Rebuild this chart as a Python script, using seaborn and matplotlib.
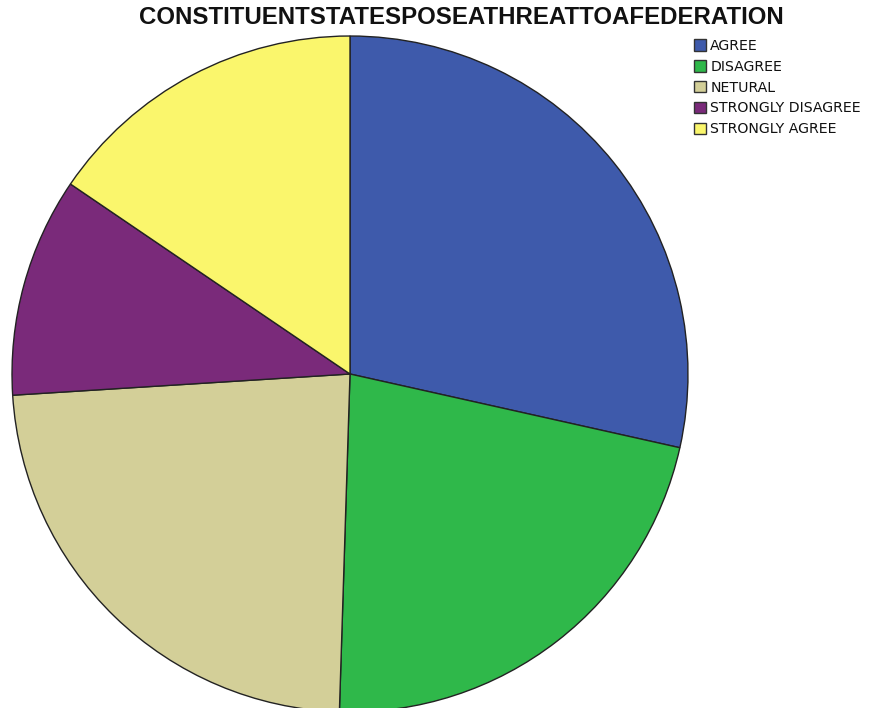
import matplotlib
matplotlib.use("Agg")
import matplotlib.pyplot as plt
import matplotlib.patches as mpatches
import seaborn as sns

categories = ["AGREE", "DISAGREE", "NETURAL", "STRONGLY DISAGREE", "STRONGLY AGREE"]
counts = [57, 44, 47, 21, 31]
colors = ["#3e5aab", "#2fb84a", "#d3cf98", "#7a2a7a", "#faf66c"]
title = "CONSTITUENTSTATESPOSEATHREATTOAFEDERATION"

sns.set_theme(style="white")
plt.rcParams["font.family"] = ["Liberation Sans", "DejaVu Sans"]

fig = plt.figure(figsize=(8.77, 7.08), dpi=100)
W, H = 877, 708
cx, cy, r = 350, 374, 339
ax = fig.add_axes([(cx - r) / W, (H - cy - r) / H, 2 * r / W, 2 * r / H])
ax.pie(counts, colors=colors, startangle=90, counterclock=False, radius=1,
       wedgeprops=dict(edgecolor="#222222", linewidth=1.0))
ax.set_xlim(-1.003, 1.003)
ax.set_ylim(-1.003, 1.003)
ax.set_aspect("auto")
ax.axis("off")

fig.text(461 / W, 1 - 18 / H, title, ha="center", va="center",
         fontsize=17.3, fontweight="bold", color="#111111")

handles = [mpatches.Patch(facecolor=c, edgecolor="#333333", linewidth=1.0, label=l)
           for c, l in zip(colors, categories)]
leg = fig.legend(handles=handles, loc="upper left", bbox_to_anchor=(694 / W, 1 - 39 / H),
                 frameon=False, handlelength=0.85, handleheight=0.85,
                 handletextpad=0.3, labelspacing=0.48, borderpad=0, borderaxespad=0,
                 prop={"family": "DejaVu Sans", "size": 10.2})
for t in leg.get_texts():
    t.set_color("#111111")

fig.savefig("out.png", dpi=100)
